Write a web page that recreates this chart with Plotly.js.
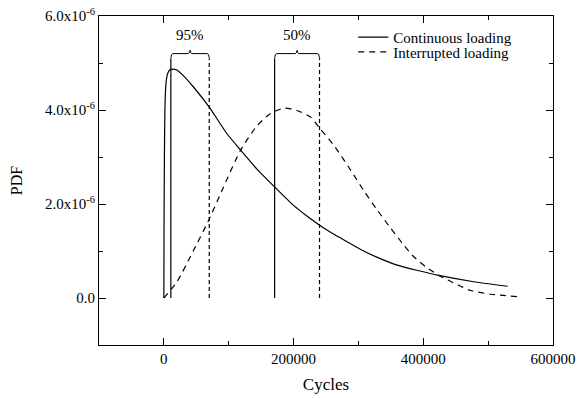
<!DOCTYPE html>
<html>
<head>
<meta charset="utf-8">
<script src="https://cdn.plot.ly/plotly-3.0.1.min.js"></script>
<style>html,body{margin:0;padding:0;background:#fff;}#chart{width:580px;height:398px;}</style>
</head>
<body>
<div id="chart"></div>
<script>
// Continuous loading PDF (values in units of 1e-6)
const contX = [0, 300, 800, 1500, 2500, 4000, 6000, 9000, 14000, 20000, 30000, 45000, 70000, 97000, 120000, 145000, 171000, 200000, 220000, 239000, 257000, 272000, 308000, 330000, 360000, 390000, 424000, 480000, 530000];
const contY = [0, 1.6, 2.9, 3.9, 4.4, 4.65, 4.78, 4.85, 4.87, 4.85, 4.73, 4.5, 4.06, 3.5, 3.12, 2.72, 2.36, 1.97, 1.75, 1.56, 1.40, 1.28, 1.00, 0.86, 0.70, 0.59, 0.48, 0.34, 0.25];
// Interrupted loading PDF (values in units of 1e-6)
const intX = [0, 20000, 45700, 69000, 92000, 118000, 144000, 164000, 185000, 205000, 226000, 241000, 263000, 288000, 308000, 329000, 350000, 368000, 383000, 404000, 424000, 447000, 473000, 504000, 545000];
const intY = [0, 0.34, 1.01, 1.65, 2.36, 3.14, 3.67, 3.92, 4.04, 3.99, 3.85, 3.60, 3.23, 2.72, 2.29, 1.87, 1.48, 1.16, 0.91, 0.66, 0.48, 0.32, 0.16, 0.08, 0.03];
// Interval bounds
const boundLo = [10800, 170800];
const boundHi = [70000, 240000];
const boundLabels = ['95%', '50%'];
const boundTop = 5.1;
// Tick labels
const yTickVals = [0, 2, 4, 6];
const yTickText = ['0.0', '2.0x10<sup>-6</sup>', '4.0x10<sup>-6</sup>', '6.0x10<sup>-6</sup>'];
const yMinorVals = [-1, 1, 3, 5];
const xTickVals = [0, 200000, 400000, 600000];
const xTickText = ['0', '200000', '400000', '600000'];

const E = 1e-6;
const sc = a => a.map(v => v * E);
const FONT = '"Liberation Serif", "Times New Roman", Times, serif';

const traces = [];
traces.push({x: contX, y: sc(contY), mode: 'lines', name: 'Continuous loading',
  line: {color: '#000', width: 1.2, shape: 'spline', smoothing: 0.5}, legend: 'legend'});
traces.push({x: intX, y: sc(intY), mode: 'lines', name: 'Interrupted loading',
  line: {color: '#000', width: 1.2, dash: '6px,5px', shape: 'spline', smoothing: 0.6}, legend: 'legend2'});

const annotations = [];
boundLo.forEach((lo, i) => {
  const hi = boundHi[i];
  const mid = (lo + hi) / 2;
  traces.push({x: [lo, lo], y: [0, boundTop * E], mode: 'lines', showlegend: false, hoverinfo: 'skip',
    line: {color: '#000', width: 1.2}});
  traces.push({x: [hi, hi], y: [0, boundTop * E], mode: 'lines', showlegend: false, hoverinfo: 'skip',
    line: {color: '#000', width: 1.2, dash: '4px,3px'}});
  const bx = [lo, lo + 1000, lo + 2800, mid - 2800, mid - 1000, mid, mid + 1000, mid + 2800, hi - 2800, hi - 1000, hi];
  const by = [5.11, 5.17, 5.2, 5.2, 5.22, 5.27, 5.22, 5.2, 5.2, 5.17, 5.11];
  traces.push({x: bx, y: sc(by), mode: 'lines', showlegend: false, hoverinfo: 'skip',
    line: {color: '#000', width: 1}});
  annotations.push({x: mid, y: 5.6 * E, text: boundLabels[i], showarrow: false,
    font: {family: FONT, size: 15, color: '#000'}});
});

const axisCommon = {
  showgrid: false, zeroline: false, showline: true, linecolor: '#000', linewidth: 1,
  mirror: 'allticks', ticks: 'inside', ticklen: 7, tickwidth: 1, tickcolor: '#000',
  tickfont: {family: FONT, size: 15, color: '#000'}
};

const layout = {
  width: 580, height: 398,
  margin: {l: 99, r: 27, t: 16, b: 53},
  paper_bgcolor: '#fff', plot_bgcolor: '#fff',
  font: {family: FONT, color: '#000'},
  xaxis: Object.assign({}, axisCommon, {
    range: [-100000, 600000], tickmode: 'array', tickvals: xTickVals, ticktext: xTickText,
    minor: {tickmode: 'linear', tick0: 0, dtick: 100000, ticks: 'inside', ticklen: 4, tickcolor: '#000'},
    title: {text: 'Cycles', font: {family: FONT, size: 17, color: '#000'}, standoff: 12}
  }),
  yaxis: Object.assign({}, axisCommon, {
    range: [-1 * E, 6 * E], tickmode: 'array', tickvals: sc(yTickVals), ticktext: yTickText,
    minor: {tickmode: 'array', tickvals: sc(yMinorVals), ticks: 'inside', ticklen: 4, tickcolor: '#000'},
    title: {text: 'PDF', font: {family: FONT, size: 16, color: '#000'}, standoff: 18}
  }),
  legend: {x: 0.56, y: 0.935, xanchor: 'left', yanchor: 'middle', bgcolor: 'rgba(0,0,0,0)',
    font: {family: FONT, size: 15, color: '#000'}, itemwidth: 30, tracegroupgap: 0},
  legend2: {x: 0.56, y: 0.89, xanchor: 'left', yanchor: 'middle', bgcolor: 'rgba(0,0,0,0)',
    font: {family: FONT, size: 15, color: '#000'}, itemwidth: 30, tracegroupgap: 0},
  annotations: annotations,
  showlegend: true
};

Plotly.newPlot('chart', traces, layout, {displayModeBar: false, staticPlot: true});
</script>
</body>
</html>
